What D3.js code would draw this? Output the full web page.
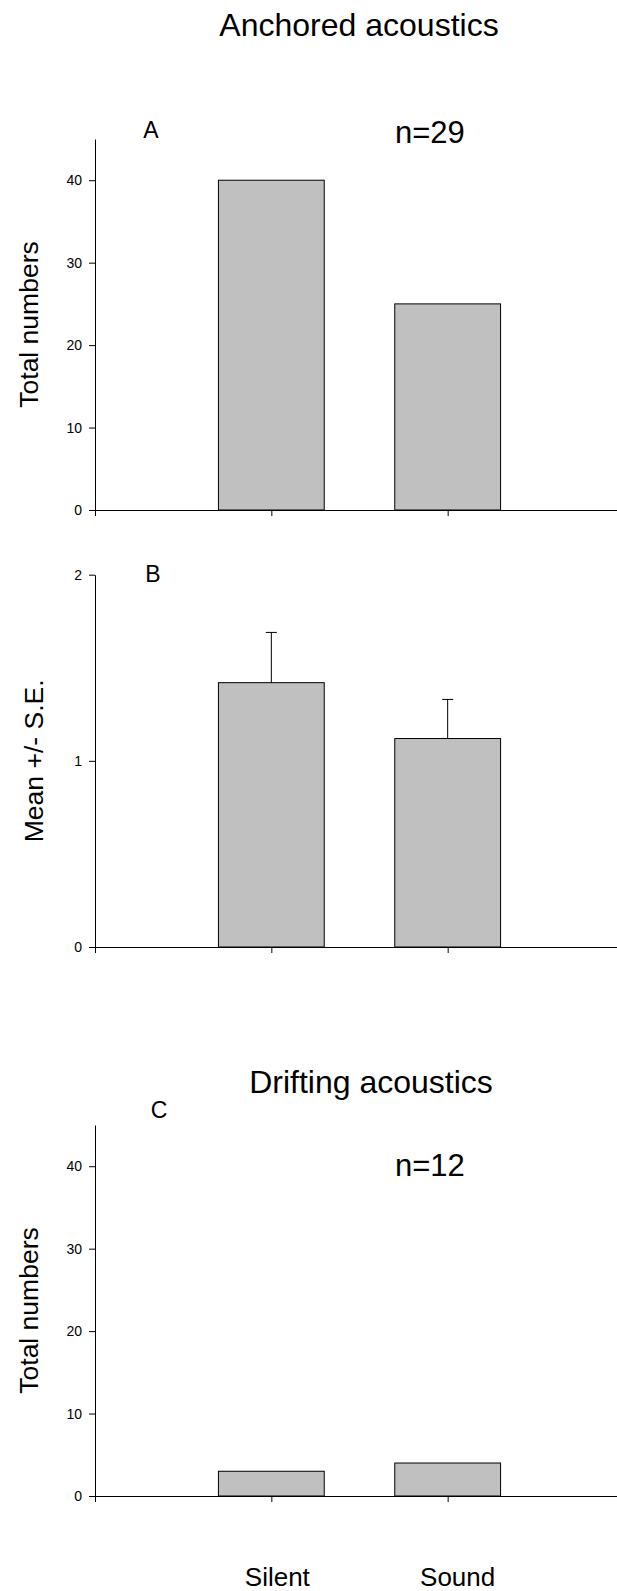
<!doctype html>
<html>
  <head>
    <meta charset="utf-8">
    <title>Anchored and drifting acoustics</title>
    <script src="https://cdnjs.cloudflare.com/ajax/libs/d3/7.8.5/d3.min.js"></script>
    <style>
      body { margin: 0; background: #fff; }
      svg text { font-family: "Liberation Sans", Arial, sans-serif; fill: #000; }
    </style>
  </head>
  <body>
    <div id="chart"></div>

    <script>
      // data
      const categories = ['Silent', 'Sound'];
      const anchoredTotals = [40, 25];
      const anchoredMeans = [1.42, 1.12];
      const anchoredSE = [0.27, 0.21];
      const driftingTotals = [3, 4];

      const totalTicks = [0, 10, 20, 30, 40];
      const meanTicks = [0, 1, 2];

      const width = 617, height = 1591;

      const svg = d3.select('#chart')
        .append('svg')
        .attr('width', width)
        .attr('height', height);

      // categories sit at 1 and 2 on a 0..3 axis, like the original plot
      const x = d3.scaleLinear().domain([0, 3]).range([95, 624]);
      const barW = x(0.6) - x(0);

      function panel(opts) {
        const y = d3.scaleLinear().domain(opts.domain).range([opts.bottom, opts.top]);
        const g = svg.append('g');

        // bars
        g.selectAll('rect.bar')
          .data(opts.values)
          .join('rect')
          .attr('class', 'bar')
          .attr('x', (d, i) => x(i + 1) - barW / 2)
          .attr('y', d => y(d))
          .attr('width', barW)
          .attr('height', d => y(0) - y(d))
          .style('fill', '#c0c0c0')
          .style('stroke', '#000')
          .style('stroke-width', 1);

        // error bars (upper only)
        if (opts.errors) {
          const eb = g.selectAll('g.err')
            .data(opts.values.map((v, i) => ({ v: v, e: opts.errors[i], i: i })))
            .join('g')
            .attr('class', 'err');
          eb.append('line')
            .attr('x1', d => x(d.i + 1)).attr('x2', d => x(d.i + 1))
            .attr('y1', d => y(d.v)).attr('y2', d => y(d.v + d.e))
            .style('stroke', '#000');
          eb.append('line')
            .attr('x1', d => x(d.i + 1) - 5.5).attr('x2', d => x(d.i + 1) + 5.5)
            .attr('y1', d => y(d.v + d.e)).attr('y2', d => y(d.v + d.e))
            .style('stroke', '#000');
        }

        // y axis
        const ya = g.append('g')
          .attr('transform', `translate(${x(0)},0)`)
          .call(d3.axisLeft(y).tickValues(opts.ticks).tickFormat(d3.format('d'))
            .tickSize(6).tickSizeOuter(0).tickPadding(7));
        ya.selectAll('text').style('font-size', '14px');

        // x axis
        g.append('g')
          .attr('transform', `translate(0,${y(0)})`)
          .call(d3.axisBottom(x).tickValues([0, 1, 2, 3]).tickSize(6).tickSizeOuter(0).tickFormat(''));

        g.selectAll('.domain, .tick line').style('stroke', '#000').style('stroke-width', 1);

        // axis title
        g.append('text')
          .attr('transform', `translate(${opts.labelX},${(opts.top + opts.bottom) / 2}) rotate(-90)`)
          .attr('text-anchor', 'middle')
          .style('font-size', '26.5px')
          .text(opts.label);

        // panel letter
        g.append('text')
          .attr('x', opts.letterX).attr('y', opts.letterY)
          .attr('text-anchor', 'middle')
          .style('font-size', '23px')
          .text(opts.letter);

        if (opts.n) {
          g.append('text')
            .attr('x', 395).attr('y', opts.nY)
            .style('font-size', '31px')
            .text(opts.n);
        }
        return y;
      }

      // titles
      svg.append('text')
        .attr('x', 359).attr('y', 36)
        .attr('text-anchor', 'middle')
        .style('font-size', '32px')
        .text('Anchored acoustics');

      svg.append('text')
        .attr('x', 371).attr('y', 1093)
        .attr('text-anchor', 'middle')
        .style('font-size', '32px')
        .text('Drifting acoustics');

      panel({
        values: anchoredTotals, domain: [0, 45], ticks: totalTicks,
        top: 139, bottom: 510, label: 'Total numbers', labelX: 38,
        letter: 'A', letterX: 151, letterY: 138, n: 'n=29', nY: 143
      });

      panel({
        values: anchoredMeans, errors: anchoredSE, domain: [0, 2], ticks: meanTicks,
        top: 574.7, bottom: 947, label: 'Mean +/- S.E.', labelX: 43,
        letter: 'B', letterX: 153, letterY: 582
      });

      panel({
        values: driftingTotals, domain: [0, 45], ticks: totalTicks,
        top: 1125, bottom: 1496, label: 'Total numbers', labelX: 38,
        letter: 'C', letterX: 159, letterY: 1118, n: 'n=12', nY: 1176
      });

      // category labels under the last panel
      svg.selectAll('text.cat')
        .data(categories)
        .join('text')
        .attr('class', 'cat')
        .attr('x', (d, i) => x(i + 1) + (i === 0 ? 6 : 10))
        .attr('y', 1586)
        .attr('text-anchor', 'middle')
        .style('font-size', '26px')
        .text(d => d);
    </script>
  </body>
</html>
